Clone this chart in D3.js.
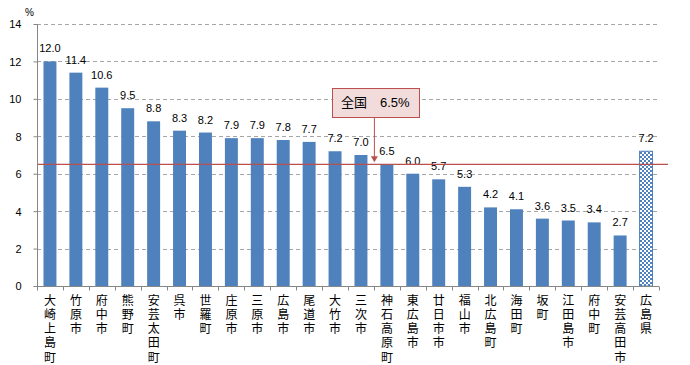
<!DOCTYPE html>
<html><head><meta charset="utf-8">
<script src="https://cdn.jsdelivr.net/npm/d3@7"></script>
<style>
html,body{margin:0;padding:0;background:#fff;}
svg{display:block;}
</style></head>
<body><svg id="c" width="690" height="365"></svg>
<script>
const categories = ["大崎上島町","竹原市","府中市","熊野町","安芸太田町","呉市","世羅町","庄原市","三原市","広島市","尾道市","大竹市","三次市","神石高原町","東広島市","廿日市市","福山市","北広島町","海田町","坂町","江田島市","府中町","安芸高田市","広島県"];
const values = [12.0,11.4,10.6,9.5,8.8,8.3,8.2,7.9,7.9,7.8,7.7,7.2,7.0,6.5,6.0,5.7,5.3,4.2,4.1,3.6,3.5,3.4,2.7,7.2];
const yTicks = [0,2,4,6,8,10,12,14];
const nationalValue = 6.5;
const nationalLabel = "全国";
const unitLabel = "%";

(function(){
const svg = d3.select("#c");
const L = 37, R = 659, T = 24, B = 286;
const x = d3.scaleBand().domain(categories).range([L, R]).paddingInner(0.5).paddingOuter(0.25);
const y = d3.scaleLinear().domain([0,14]).range([B, T]);

const defs = svg.append("defs");
const pat = defs.append("pattern").attr("id","chk").attr("width",4).attr("height",4).attr("patternUnits","userSpaceOnUse");
pat.append("rect").attr("width",4).attr("height",4).attr("fill","#fff");
pat.append("rect").attr("width",2).attr("height",2).attr("fill","#4F81BD");
pat.append("rect").attr("x",2).attr("y",2).attr("width",2).attr("height",2).attr("fill","#4F81BD");

// gridlines
svg.append("g").selectAll("line").data(yTicks.filter(d=>d>0)).join("line")
  .attr("x1",L).attr("x2",R).attr("y1",d=>Math.round(y(d))+0.5).attr("y2",d=>Math.round(y(d))+0.5)
  .attr("stroke","#a6a6a6").attr("stroke-dasharray","4,3").attr("stroke-width",1);

// bars
const last = categories[categories.length-1];
svg.append("g").selectAll("rect").data(categories).join("rect")
  .attr("x",d=>x(d)).attr("width",x.bandwidth())
  .attr("y",(d,i)=>y(values[i])).attr("height",(d,i)=>y(0)-y(values[i]))
  .attr("fill",d=>d===last?"url(#chk)":"#4F81BD")
  .attr("stroke",d=>d===last?"#4F81BD":"none").attr("stroke-width",1);

// value labels
svg.append("g").selectAll("text").data(categories).join("text")
  .attr("x",d=>x(d)+x.bandwidth()/2).attr("y",(d,i)=>y(values[i])-9)
  .attr("text-anchor","middle").attr("font-family","Liberation Sans, Arial, sans-serif").attr("font-size",11).attr("fill","#000")
  .text((d,i)=>values[i].toFixed(1));

// y axis
const yAxis = d3.axisLeft(y).tickValues(yTicks).tickSize(4).tickFormat(d3.format("d"));
const ga = svg.append("g").attr("transform",`translate(${L+0.5},0)`).call(yAxis);
ga.select(".domain").attr("stroke","#868686").attr("d",`M0,${T}V${B}`);
ga.selectAll(".tick line").attr("stroke","#868686");
ga.selectAll(".tick text").attr("font-family","Liberation Sans, Arial, sans-serif").attr("font-size",11).attr("fill","#000").attr("x",-16).attr("dy","0.35em");

// x axis
const xb = d3.axisBottom(x).tickSize(0).tickFormat("");
const gx = svg.append("g").attr("transform",`translate(0,${B+0.5})`).call(xb);
gx.select(".domain").attr("stroke","#868686").attr("d",`M${L},0H${R}`);
const bounds = categories.map(d=>x(d)-(x.step()-x.bandwidth())/2).concat([R]);
gx.selectAll("line.bt").data(bounds).join("line").attr("class","bt")
  .attr("x1",d=>Math.round(d)+0.5).attr("x2",d=>Math.round(d)+0.5).attr("y1",0).attr("y2",4).attr("stroke","#868686");

// vertical category labels
svg.append("g").selectAll("text").data(categories).join("text")
  .attr("x",d=>x(d)+x.bandwidth()/2).attr("y",294)
  .style("writing-mode","vertical-rl").style("text-orientation","upright")
  .attr("letter-spacing",2.3)
  .attr("font-family","Noto Sans CJK JP, sans-serif").attr("font-size",12).attr("fill","#000")
  .text(d=>d);

// unit label
svg.append("text").attr("x",25).attr("y",16).attr("font-family","Liberation Sans, Arial, sans-serif").attr("font-size",10).text(unitLabel);

// national line
svg.append("line").attr("x1",L+1).attr("x2",668).attr("y1",y(nationalValue)).attr("y2",y(nationalValue))
  .attr("stroke","#B9504D").attr("stroke-width",1.3);

// annotation
const bx = 332, by = 88, bw = 87, bh = 29;
const ax = x(categories[13]) - 6;
svg.append("line").attr("x1",ax).attr("x2",ax).attr("y1",by+bh).attr("y2",y(nationalValue)-4).attr("stroke","#B9504D").attr("stroke-width",1);
svg.append("path").attr("d",`M${ax-3.5},${y(nationalValue)-8}L${ax+3.5},${y(nationalValue)-8}L${ax},${y(nationalValue)-2}Z`).attr("fill","#B9504D");
svg.append("rect").attr("x",bx+0.5).attr("y",by+0.5).attr("width",bw).attr("height",bh).attr("fill","#F2DCDB").attr("stroke","#B9504D");
svg.append("text").attr("x",bx+9).attr("y",by+19).attr("font-family","Noto Sans CJK JP, sans-serif").attr("font-size",13).text(nationalLabel);
svg.append("text").attr("x",bx+48).attr("y",by+19).attr("font-family","Liberation Sans, Arial, sans-serif").attr("font-size",13).text(nationalValue.toFixed(1)+"%");
})();
</script>
</body></html>
